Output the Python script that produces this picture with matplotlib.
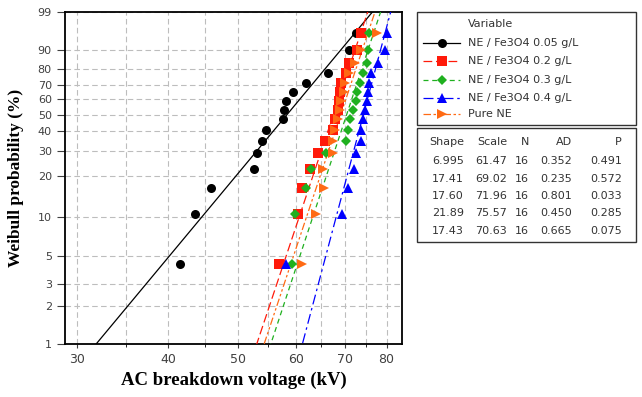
import matplotlib.pyplot as plt
from matplotlib.lines import Line2D
from matplotlib.patches import Rectangle
from matplotlib.ticker import NullFormatter
import numpy as np

plt.rcParams["font.family"] = "DejaVu Sans"

# median rank plotting positions (%) for 16 shots
ranks = [4.3, 10.4, 16.5, 22.6, 28.7, 34.8, 40.9, 47.0,
         53.0, 59.1, 65.2, 71.3, 77.4, 83.5, 89.6, 95.7]

# breakdown voltages (kV), sorted
v_005 = [41.6, 43.6, 45.9, 52.6, 53.0, 53.9, 54.5, 57.6,
         57.7, 58.1, 59.5, 61.9, 66.5, 70.7, 71.0, 72.7]
v_02 = [56.9, 60.4, 61.1, 62.7, 64.4, 65.8, 67.5, 67.9,
        68.6, 68.8, 69.0, 69.3, 70.4, 71.0, 72.8, 73.8]
v_03 = [59.2, 59.8, 61.9, 63.0, 66.1, 70.4, 70.7, 71.2,
        72.0, 72.6, 72.9, 73.6, 74.2, 75.1, 75.4, 75.6]
v_04 = [58.1, 69.5, 70.8, 72.1, 72.6, 73.8, 73.8, 74.2,
        74.6, 75.1, 75.5, 75.7, 76.1, 77.9, 79.5, 80.0]
v_pure = [61.1, 64.0, 65.6, 65.4, 67.5, 67.5, 67.9, 68.5,
          69.0, 69.3, 69.8, 70.2, 71.0, 72.3, 73.8, 77.5]

labels = ["NE / Fe3O4 0.05 g/L", "NE / Fe3O4 0.2 g/L", "NE / Fe3O4 0.3 g/L",
          "NE / Fe3O4 0.4 g/L", "Pure NE"]
shape = [6.995, 17.41, 17.60, 21.89, 17.43]
scale = [61.47, 69.02, 71.96, 75.57, 70.63]
n_obs = [16, 16, 16, 16, 16]
ad = [0.352, 0.235, 0.801, 0.450, 0.665]
pval = [0.491, 0.572, 0.033, 0.285, 0.075]

series = [v_005, v_02, v_03, v_04, v_pure]
colors = ["black", "#ff1a0a", "#1fb01f", "#0000ff", "#ff6a14"]
markers = ["o", "s", "D", "^", ">"]
msizes = [6.5, 6.5, 5.5, 6.5, 6.5]
styles = ["-", (0, (7, 3)), (0, (4, 3)), (0, (8, 3, 2, 3)), (0, (6, 2, 2, 2, 2, 2))]


def fwd(p):
    p = np.clip(np.asarray(p, dtype=float), 1e-9, 100 - 1e-9)
    return np.log(-np.log(1 - p / 100))


def inv(w):
    return 100 * (1 - np.exp(-np.exp(w)))


fig = plt.figure(figsize=(6.42, 3.97), dpi=100)
ax = fig.add_axes([65 / 642, 53 / 397, 337 / 642, 332 / 397])
ax.set_xscale("log")
ax.set_yscale("function", functions=(fwd, inv))

# fitted Weibull lines from the shape / scale estimates
pp = np.linspace(0.5, 99.6, 300)
for b, eta, c, ls in zip(shape, scale, colors, styles):
    xx = eta * (-np.log(1 - pp / 100)) ** (1 / b)
    ax.plot(xx, pp, color=c, linestyle=ls, lw=0.9, zorder=3)

for v, c, m, ms in zip(series, colors, markers, msizes):
    ax.plot(v, ranks, linestyle="none", marker=m, color=c, markersize=ms,
            markeredgewidth=0, zorder=4)

ax.set_xlim(28.85, 84.0)
ax.set_ylim(1, 99)

xt = [30, 40, 50, 60, 70, 80]
ax.set_xticks(xt)
ax.set_xticklabels([str(t) for t in xt])
ax.xaxis.set_minor_formatter(NullFormatter())
ax.set_xticks([35, 45, 55, 65, 75], minor=True)
yt = [1, 2, 3, 5, 10, 20, 30, 40, 50, 60, 70, 80, 90, 99]
ax.set_yticks(yt)
ax.set_yticklabels([str(t) for t in yt])
ax.yaxis.set_minor_formatter(NullFormatter())
ax.yaxis.set_minor_locator(plt.NullLocator())

ax.grid(True, which="both", color="#bdbdbd", linestyle=(0, (5, 3)), lw=0.8)
ax.set_axisbelow(True)
ax.tick_params(axis="x", which="major", labelsize=9, length=3, colors="#404040")
ax.tick_params(axis="x", which="minor", length=2)
ax.tick_params(axis="y", labelsize=8, length=6, colors="#404040")
for s in ax.spines.values():
    s.set_linewidth(1.3)

ax.set_xlabel("AC breakdown voltage (kV)", fontsize=13.5, fontweight="bold",
              family="Liberation Serif", labelpad=4)
ax.set_ylabel("Weibull probability (%)", fontsize=12.5, fontweight="bold",
              family="Liberation Serif", labelpad=10)


def fx(px):
    return px / 642


def fy(py):
    return (397 - py) / 397


# legend box
fig.add_artist(Rectangle((fx(417), fy(125)), fx(636) - fx(417), fy(12) - fy(125),
                         transform=fig.transFigure, fill=False, ec="#333333", lw=1.0))
fig.text(fx(468), fy(24), "Variable", fontsize=8, color="#333333", va="center")
leg_y = [43, 61, 80, 98, 114]
for lab, c, m, ms, ls, y in zip(labels, colors, markers, msizes, styles, leg_y):
    fig.add_artist(Line2D([fx(423), fx(441.5), fx(460)], [fy(y)] * 3,
                          transform=fig.transFigure, color=c, linestyle=ls, lw=0.9,
                          marker=m, markevery=[1], markersize=ms, markeredgewidth=0))
    fig.text(fx(468), fy(y), lab, fontsize=8, color="#333333", va="center")

# statistics table
fig.add_artist(Rectangle((fx(417), fy(242)), fx(636) - fx(417), fy(128) - fy(242),
                         transform=fig.transFigure, fill=False, ec="#333333", lw=1.0))
col_x = [464, 507, 529, 572, 622]
head = ["Shape", "Scale", "N", "AD", "P"]
for hx, h in zip(col_x, head):
    fig.text(fx(hx), fy(142), h, fontsize=8, color="#333333", ha="right", va="center")
row_y = [161, 179, 196, 213, 231]
for i, y in enumerate(row_y):
    cells = [f"{shape[i]:.3f}" if shape[i] < 10 else f"{shape[i]:.2f}",
             f"{scale[i]:.2f}", str(n_obs[i]), f"{ad[i]:.3f}", f"{pval[i]:.3f}"]
    for cx, t in zip(col_x, cells):
        fig.text(fx(cx), fy(y), t, fontsize=8, color="#333333", ha="right", va="center")

fig.savefig("out.png", dpi=100)
